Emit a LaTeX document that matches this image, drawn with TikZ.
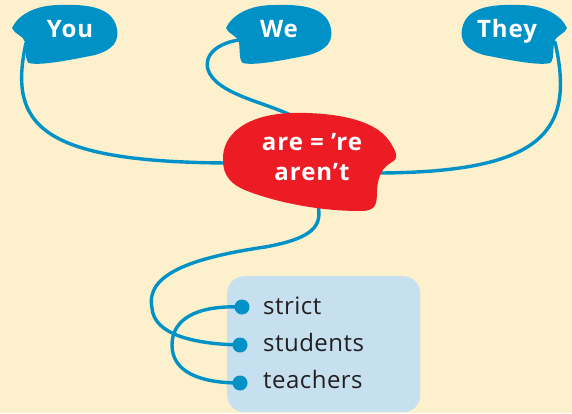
\documentclass[tikz,border=0pt]{standalone}
\usepackage{fontspec}
\setmainfont{Open Sans}
\definecolor{bgcream}{HTML}{FDF0CC}
\definecolor{blobblue}{RGB}{0,146,199}
\definecolor{blobred}{HTML}{ED1C24}
\definecolor{boxblue}{HTML}{C7E0F0}
\definecolor{darktext}{HTML}{231F20}
\newcommand\myblobpath{(12,28) .. controls (18,15) and (35,5) .. (60,5) .. controls (90,4) and (110,8) .. (116,25) .. controls (121,42) and (112,50) .. (95,55) .. controls (70,60) and (40,66) .. (29,63) .. controls (25,61) and (26,50) .. (25,42) .. controls (24,36) and (14,34) .. (12,28) -- cycle}
\tikzset{
  link/.style={draw=blobblue, line width=3.4pt, line cap=round},
  btext/.style={text=white, font=\fontsize{24}{28}\selectfont\bfseries\addfontfeature{LetterSpace=4}, inner sep=0pt},
  wordtext/.style={text=darktext, font=\fontsize{24}{28}\selectfont\addfontfeature{LetterSpace=2}, inner sep=0pt, anchor=base west},
  dotnode/.style={circle, fill=blobblue, inner sep=0pt, minimum size=15pt},
  boxnode/.style={fill=boxblue, rounded corners=17pt, inner sep=0pt, anchor=north west}
}
\begin{document}
\begin{tikzpicture}[x=1pt,y=-1pt]
\useasboundingbox (0,0) rectangle (572,413);
\clip (0,0) rectangle (572,413);
\fill[bgcream] (0,0) rectangle (572,413);

% box
\node[boxnode, minimum width=193pt, minimum height=136pt] (box) at (227,276) {};

% connector end points
\coordinate (younotch) at (26,43);
\coordinate (wenotch) at (239,40);
\coordinate (theynotch) at (555,42);
\coordinate (redL) at (228,163);
\coordinate (redT) at (295,117);
\coordinate (redR) at (380,173);
\coordinate (redB) at (318,205);

% dots
\node[dotnode] (dstrict) at (242,307) {};
\node[dotnode] (dstudents) at (240,345) {};
\node[dotnode] (dteachers) at (240,383) {};

% connectors
\draw[link] (younotch) .. controls (8,125) and (40,162) .. (redL);
\draw[link] (wenotch) .. controls (205,45) and (195,70) .. (225,88) .. controls (245,100) and (270,105) .. (redT);
\draw[link] (theynotch) .. controls (575,130) and (545,172) .. (redR);
\draw[link] (redB) .. controls (322,225) and (315,238) .. (265,247) .. controls (190,258) and (145,275) .. (152,308) .. controls (154,335) and (195,344) .. (dstudents.center);
\draw[link] (dstrict.center) .. controls (195,305) and (172,320) .. (172,345) .. controls (172,372) and (200,383) .. (dteachers.center);

% blue blobs
\fill[blobblue] \myblobpath;
\begin{scope}[shift={(214,0)}]
\fill[blobblue] \myblobpath;
\end{scope}
\begin{scope}[shift={(579,0)}, xscale=-1]
\fill[blobblue] \myblobpath;
\end{scope}

% red blob
\fill[blobred] (223,160) .. controls (222,135) and (245,115) .. (290,113) .. controls (330,112) and (375,118) .. (390,142) .. controls (395,150) and (400,158) .. (392,162) .. controls (383,167) and (378,175) .. (377,190) .. controls (377,205) and (376,211) .. (360,211) .. controls (320,211) and (280,203) .. (250,192) .. controls (230,185) and (223,175) .. (223,160) -- cycle;

% texts
\node[btext, anchor=base] (you) at (70,37) {You};
\node[btext, anchor=base] (we) at (279,37) {We};
\node[btext, anchor=base] (they) at (507,37) {They};
\node[btext, anchor=base] (are) at (312,150) {are = ’re};
\node[btext, anchor=base] (arent) at (312,180) {aren’t};

\node[wordtext] (strict) at (263,314) {strict};
\node[wordtext] (students) at (263,351) {students};
\node[wordtext] (teachers) at (263,388) {teachers};
\end{tikzpicture}
\end{document}
